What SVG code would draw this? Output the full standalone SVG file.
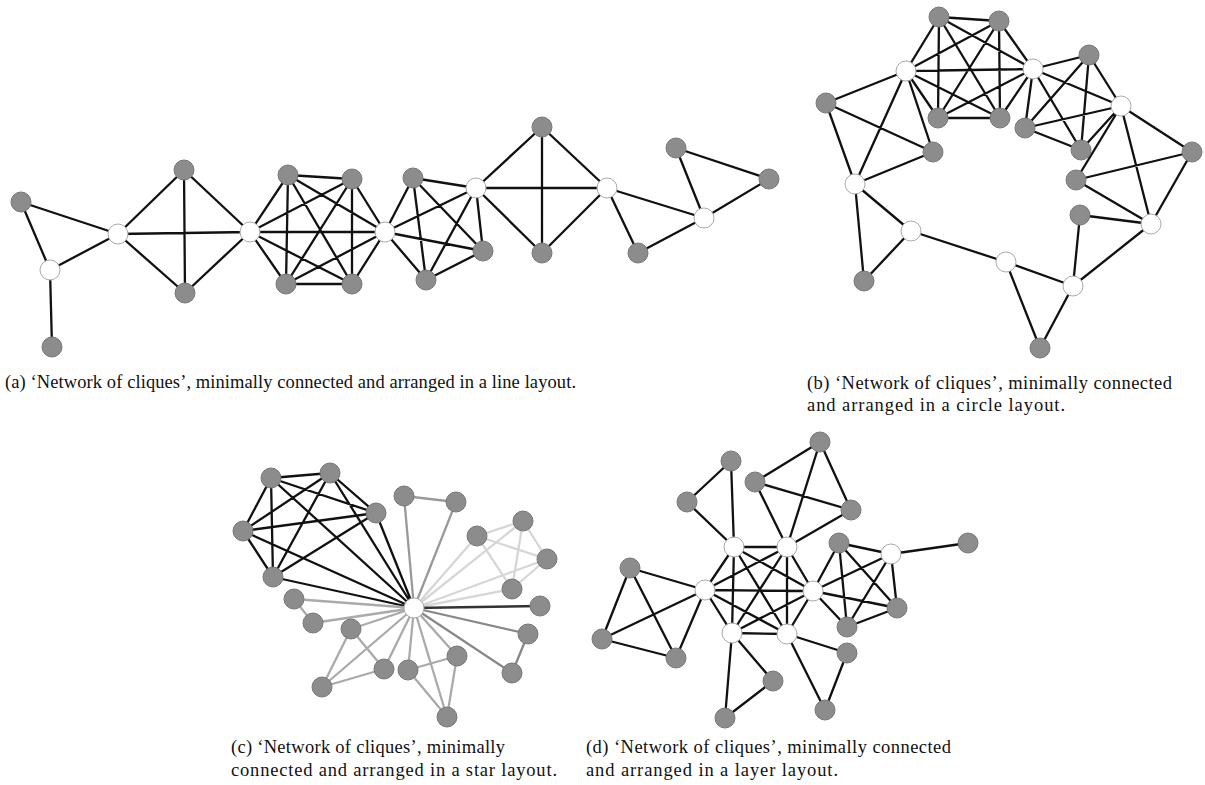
<svg xmlns="http://www.w3.org/2000/svg" width="1205" height="785" viewBox="0 0 1205 785">
<style>
.e{fill:none;stroke:#111;stroke-width:2.3;stroke-linecap:round}
.g{fill:#8c8c8c;stroke:#777;stroke-width:1}
.w{fill:#fff;stroke:#aaa;stroke-width:1}
.cap{font-family:"Liberation Serif","DejaVu Serif",serif;font-size:18.5px;fill:#111}
</style>
<rect width="1205" height="785" fill="#fff"/>
<g id="connectors">
<path class="e" d="M21,202L50,270 M21,202L118,234 M50,270L118,234 M50,270L52,347
M118,234L184,170 M118,234L185,293 M118,234L250,232 M184,170L185,293 M184,170L250,232 M185,293L250,232
M250,232L288,175 M250,232L352,179 M250,232L286,284 M250,232L352,284 M250,232L385,232
M288,175L352,179 M288,175L286,284 M288,175L352,284 M288,175L385,232
M352,179L286,284 M352,179L352,284 M352,179L385,232
M286,284L352,284 M286,284L385,232 M352,284L385,232
M385,232L413,178 M385,232L476,188 M385,232L426,280 M385,232L483,251
M413,178L476,188 M413,178L426,280 M413,178L483,251
M476,188L426,280 M476,188L483,251 M426,280L483,251
M476,188L542,127 M476,188L607,188 M476,188L542,253 M542,127L607,188 M542,127L542,253 M607,188L542,253
M607,188L638,253 M607,188L704,218 M638,253L704,218
M704,218L676,148 M704,218L769,179 M676,148L769,179"/>
<path class="e" d="M906,71L939,17 M906,71L999,21 M906,71L1033,69 M906,71L938,118 M906,71L1000,118
M939,17L999,21 M939,17L1033,69 M939,17L938,118 M939,17L1000,118
M999,21L1033,69 M999,21L938,118 M999,21L1000,118
M1033,69L938,118 M1033,69L1000,118 M938,118L1000,118
M906,71L826,103 M906,71L933,152 M906,71L855,184 M826,103L933,152 M826,103L855,184 M933,152L855,184
M1033,69L1089,55 M1033,69L1025,128 M1033,69L1081,150 M1033,69L1121,106
M1089,55L1025,128 M1089,55L1081,150 M1089,55L1121,106
M1025,128L1081,150 M1025,128L1121,106 M1081,150L1121,106
M1121,106L1192,152 M1121,106L1076,180 M1121,106L1151,224 M1192,152L1076,180 M1192,152L1151,224 M1076,180L1151,224
M1151,224L1080,215 M1151,224L1073,286 M1080,215L1073,286
M855,184L911,231 M855,184L864,281 M911,231L864,281
M911,231L1006,262
M1006,262L1073,286 M1006,262L1040,348 M1073,286L1040,348"/>
<path class="e" d="M271,478L330,473 M271,478L376,513 M271,478L243,531 M271,478L273,577 M271,478L414,608
M330,473L376,513 M330,473L243,531 M330,473L273,577 M330,473L414,608
M376,513L243,531 M376,513L273,577 M376,513L414,608
M243,531L273,577 M243,531L414,608 M273,577L414,608"/>
<path class="e" style="stroke:#999" d="M404,496L456,502 M404,496L414,608 M456,502L414,608"/>
<path class="e" style="stroke:#d6d6d6" d="M523,521L477,536 M523,521L547,559 M523,521L512,589 M523,521L414,608
M477,536L547,559 M477,536L512,589 M477,536L414,608
M547,559L512,589 M547,559L414,608 M512,589L414,608"/>
<path class="e" style="stroke:#333" d="M414,608L540,606"/>
<path class="e" style="stroke:#888" d="M528,634L512,673 M528,634L414,608 M512,673L414,608"/>
<path class="e" style="stroke:#aaa" d="M457,656L408,670 M457,656L447,717 M457,656L414,608 M408,670L447,717 M408,670L414,608 M447,717L414,608
M294,599L313,623 M294,599L414,608 M313,623L414,608
M351,629L384,669 M351,629L322,687 M351,629L414,608 M384,669L322,687 M384,669L414,608 M322,687L414,608"/>
<path class="e" d="M734,547L787,547 M734,547L705,590 M734,547L813,591 M734,547L732,633 M734,547L787,634
M787,547L705,590 M787,547L813,591 M787,547L732,633 M787,547L787,634
M705,590L813,591 M705,590L732,633 M705,590L787,634
M813,591L732,633 M813,591L787,634 M732,633L787,634
M734,547L731,461 M734,547L687,502 M731,461L687,502
M787,547L820,442 M787,547L755,482 M787,547L851,510 M820,442L755,482 M820,442L851,510 M755,482L851,510
M705,590L630,568 M705,590L602,639 M705,590L676,658 M630,568L602,639 M630,568L676,658 M602,639L676,658
M813,591L839,543 M813,591L891,554 M813,591L897,608 M813,591L847,627
M839,543L891,554 M839,543L897,608 M839,543L847,627
M891,554L897,608 M891,554L847,627 M897,608L847,627
M891,554L968,543
M732,633L773,681 M732,633L725,718 M773,681L725,718
M787,634L847,653 M787,634L825,710 M847,653L825,710"/>
</g>
<!-- panel a nodes -->
<g id="a_g1"><circle class="g" cx="21" cy="202" r="10"/></g>
<g id="a_w1"><circle class="w" cx="50" cy="270" r="10"/></g>
<g id="a_g2"><circle class="g" cx="52" cy="347" r="10"/></g>
<g id="a_w2"><circle class="w" cx="118" cy="234" r="10"/></g>
<g id="a_g3"><circle class="g" cx="184" cy="170" r="10"/></g>
<g id="a_g4"><circle class="g" cx="185" cy="293" r="10"/></g>
<g id="a_w3"><circle class="w" cx="250" cy="232" r="10"/></g>
<g id="a_a1"><circle class="g" cx="288" cy="175" r="10"/></g>
<g id="a_a2"><circle class="g" cx="352" cy="179" r="10"/></g>
<g id="a_a3"><circle class="g" cx="286" cy="284" r="10"/></g>
<g id="a_a4"><circle class="g" cx="352" cy="284" r="10"/></g>
<g id="a_w4"><circle class="w" cx="385" cy="232" r="10"/></g>
<g id="a_b1"><circle class="g" cx="413" cy="178" r="10"/></g>
<g id="a_w5"><circle class="w" cx="476" cy="188" r="10"/></g>
<g id="a_b2"><circle class="g" cx="426" cy="280" r="10"/></g>
<g id="a_b3"><circle class="g" cx="483" cy="251" r="10"/></g>
<g id="a_c1"><circle class="g" cx="542" cy="127" r="10"/></g>
<g id="a_w6"><circle class="w" cx="607" cy="188" r="10"/></g>
<g id="a_c2"><circle class="g" cx="542" cy="253" r="10"/></g>
<g id="a_d1"><circle class="g" cx="638" cy="253" r="10"/></g>
<g id="a_w7"><circle class="w" cx="704" cy="218" r="10"/></g>
<g id="a_d2"><circle class="g" cx="676" cy="148" r="10"/></g>
<g id="a_d3"><circle class="g" cx="769" cy="179" r="10"/></g>
<!-- panel b nodes -->
<g id="b_e1"><circle class="g" cx="939" cy="17" r="10"/></g>
<g id="b_e2"><circle class="g" cx="999" cy="21" r="10"/></g>
<g id="b_x1"><circle class="w" cx="906" cy="71" r="10"/></g>
<g id="b_e3"><circle class="g" cx="938" cy="118" r="10"/></g>
<g id="b_e4"><circle class="g" cx="1000" cy="118" r="10"/></g>
<g id="b_x2"><circle class="w" cx="1033" cy="69" r="10"/></g>
<g id="b_f1"><circle class="g" cx="826" cy="103" r="10"/></g>
<g id="b_f2"><circle class="g" cx="933" cy="152" r="10"/></g>
<g id="b_x3"><circle class="w" cx="855" cy="184" r="10"/></g>
<g id="b_g1"><circle class="g" cx="1089" cy="55" r="10"/></g>
<g id="b_g2"><circle class="g" cx="1025" cy="128" r="10"/></g>
<g id="b_g3"><circle class="g" cx="1081" cy="150" r="10"/></g>
<g id="b_x4"><circle class="w" cx="1121" cy="106" r="10"/></g>
<g id="b_h1"><circle class="g" cx="1192" cy="152" r="10"/></g>
<g id="b_h2"><circle class="g" cx="1076" cy="180" r="10"/></g>
<g id="b_x5"><circle class="w" cx="1151" cy="224" r="10"/></g>
<g id="b_i1"><circle class="g" cx="1080" cy="215" r="10"/></g>
<g id="b_x6"><circle class="w" cx="911" cy="231" r="10"/></g>
<g id="b_j1"><circle class="g" cx="864" cy="281" r="10"/></g>
<g id="b_x7"><circle class="w" cx="1006" cy="262" r="10"/></g>
<g id="b_x8"><circle class="w" cx="1073" cy="286" r="10"/></g>
<g id="b_k1"><circle class="g" cx="1040" cy="348" r="10"/></g>
<!-- panel c nodes -->
<g id="c_p1"><circle class="g" cx="271" cy="478" r="10"/></g>
<g id="c_p2"><circle class="g" cx="330" cy="473" r="10"/></g>
<g id="c_p3"><circle class="g" cx="376" cy="513" r="10"/></g>
<g id="c_p4"><circle class="g" cx="243" cy="531" r="10"/></g>
<g id="c_p5"><circle class="g" cx="273" cy="577" r="10"/></g>
<g id="c_q1"><circle class="g" cx="404" cy="496" r="10"/></g>
<g id="c_q2"><circle class="g" cx="456" cy="502" r="10"/></g>
<g id="c_r1"><circle class="g" cx="523" cy="521" r="10"/></g>
<g id="c_r2"><circle class="g" cx="477" cy="536" r="10"/></g>
<g id="c_r3"><circle class="g" cx="547" cy="559" r="10"/></g>
<g id="c_r4"><circle class="g" cx="512" cy="589" r="10"/></g>
<g id="c_s1"><circle class="g" cx="540" cy="606" r="10"/></g>
<g id="c_t1"><circle class="g" cx="528" cy="634" r="10"/></g>
<g id="c_t2"><circle class="g" cx="512" cy="673" r="10"/></g>
<g id="c_u1"><circle class="g" cx="457" cy="656" r="10"/></g>
<g id="c_u2"><circle class="g" cx="408" cy="670" r="10"/></g>
<g id="c_u3"><circle class="g" cx="447" cy="717" r="10"/></g>
<g id="c_v1"><circle class="g" cx="294" cy="599" r="10"/></g>
<g id="c_v2"><circle class="g" cx="313" cy="623" r="10"/></g>
<g id="c_w1"><circle class="g" cx="351" cy="629" r="10"/></g>
<g id="c_w2"><circle class="g" cx="384" cy="669" r="10"/></g>
<g id="c_w3"><circle class="g" cx="322" cy="687" r="10"/></g>
<g id="c_center"><circle class="w" cx="414" cy="608" r="10"/></g>
<!-- panel d nodes -->
<g id="d_y1"><circle class="w" cx="734" cy="547" r="10"/></g>
<g id="d_y2"><circle class="w" cx="787" cy="547" r="10"/></g>
<g id="d_y3"><circle class="w" cx="705" cy="590" r="10"/></g>
<g id="d_y4"><circle class="w" cx="813" cy="591" r="10"/></g>
<g id="d_y5"><circle class="w" cx="732" cy="633" r="10"/></g>
<g id="d_y6"><circle class="w" cx="787" cy="634" r="10"/></g>
<g id="d_z1"><circle class="g" cx="731" cy="461" r="10"/></g>
<g id="d_z2"><circle class="g" cx="687" cy="502" r="10"/></g>
<g id="d_z3"><circle class="g" cx="820" cy="442" r="10"/></g>
<g id="d_z4"><circle class="g" cx="755" cy="482" r="10"/></g>
<g id="d_z5"><circle class="g" cx="851" cy="510" r="10"/></g>
<g id="d_l1"><circle class="g" cx="630" cy="568" r="10"/></g>
<g id="d_l2"><circle class="g" cx="602" cy="639" r="10"/></g>
<g id="d_l3"><circle class="g" cx="676" cy="658" r="10"/></g>
<g id="d_m1"><circle class="g" cx="839" cy="543" r="10"/></g>
<g id="d_mw"><circle class="w" cx="891" cy="554" r="10"/></g>
<g id="d_m2"><circle class="g" cx="897" cy="608" r="10"/></g>
<g id="d_m3"><circle class="g" cx="847" cy="627" r="10"/></g>
<g id="d_mx"><circle class="g" cx="968" cy="543" r="10"/></g>
<g id="d_n1"><circle class="g" cx="773" cy="681" r="10"/></g>
<g id="d_n2"><circle class="g" cx="725" cy="718" r="10"/></g>
<g id="d_o1"><circle class="g" cx="847" cy="653" r="10"/></g>
<g id="d_o2"><circle class="g" cx="825" cy="710" r="10"/></g>
<!-- captions -->
<g id="captions">
<text class="cap" x="5" y="388" textLength="571" lengthAdjust="spacing">(a) ‘Network of cliques’, minimally connected and arranged in a line layout.</text>
<text class="cap" x="807" y="389" textLength="365" lengthAdjust="spacing">(b) ‘Network of cliques’, minimally connected</text>
<text class="cap" x="807" y="411" textLength="258" lengthAdjust="spacing">and arranged in a circle layout.</text>
<text class="cap" x="231" y="753" textLength="274" lengthAdjust="spacing">(c) ‘Network of cliques’, minimally</text>
<text class="cap" x="231" y="776" textLength="326" lengthAdjust="spacing">connected and arranged in a star layout.</text>
<text class="cap" x="586" y="753" textLength="365" lengthAdjust="spacing">(d) ‘Network of cliques’, minimally connected</text>
<text class="cap" x="586" y="776" textLength="252" lengthAdjust="spacing">and arranged in a layer layout.</text>
</g>
</svg>
